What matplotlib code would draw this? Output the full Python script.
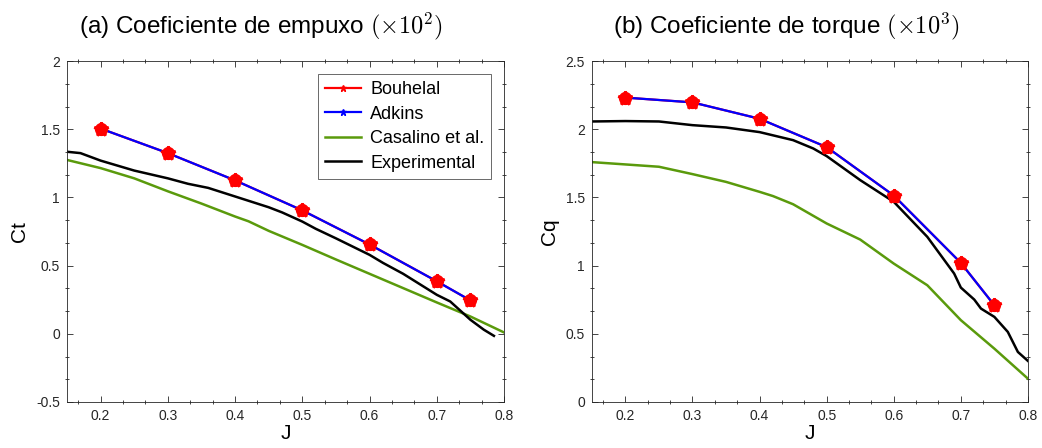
import matplotlib
matplotlib.use("Agg")
import matplotlib.pyplot as plt
from matplotlib.ticker import AutoMinorLocator
import numpy as np

plt.rcParams['font.family'] = ['Liberation Sans', 'DejaVu Sans']
plt.rcParams['mathtext.fontset'] = 'cm'

# Model points (Bouhelal and Adkins coincide)
J_model = [0.2, 0.3, 0.4, 0.5, 0.6, 0.7, 0.75]
ct_bouhelal = [1.505, 1.325, 1.125, 0.905, 0.655, 0.385, 0.245]
ct_adkins = [1.505, 1.325, 1.125, 0.905, 0.655, 0.385, 0.245]
cq_bouhelal = [2.232, 2.197, 2.077, 1.869, 1.514, 1.020, 0.709]
cq_adkins = [2.232, 2.197, 2.077, 1.869, 1.514, 1.020, 0.709]

# Casalino et al.
J_cas = [0.15, 0.2, 0.25, 0.3, 0.35, 0.4, 0.42, 0.45, 0.5, 0.55, 0.6, 0.65, 0.7, 0.75, 0.8]
ct_cas = [1.275, 1.215, 1.14, 1.045, 0.955, 0.86, 0.825, 0.755, 0.652, 0.545, 0.44, 0.335, 0.23, 0.127, 0.01]
cq_cas = [1.759, 1.742, 1.725, 1.671, 1.614, 1.541, 1.51, 1.45, 1.309, 1.191, 1.015, 0.856, 0.6, 0.391, 0.171]

# Experimental
J_exp_ct = [0.15, 0.17, 0.2, 0.25, 0.3, 0.33, 0.36, 0.4, 0.45, 0.47, 0.5, 0.52, 0.55, 0.6, 0.62, 0.65, 0.7, 0.72, 0.75, 0.77, 0.785]
ct_exp = [1.335, 1.325, 1.27, 1.197, 1.14, 1.10, 1.07, 1.007, 0.928, 0.89, 0.823, 0.77, 0.70, 0.579, 0.52, 0.44, 0.286, 0.237, 0.103, 0.03, -0.015]
J_exp_cq = [0.15, 0.2, 0.25, 0.3, 0.35, 0.4, 0.45, 0.48, 0.5, 0.55, 0.6, 0.65, 0.69, 0.7, 0.72, 0.73, 0.75, 0.77, 0.785, 0.8]
cq_exp = [2.057, 2.06, 2.057, 2.03, 2.013, 1.979, 1.92, 1.859, 1.803, 1.627, 1.468, 1.211, 0.942, 0.839, 0.751, 0.685, 0.624, 0.514, 0.367, 0.301]

titles = [r"(a) Coeficiente de empuxo $(\times 10^2)$", r"(b) Coeficiente de torque $(\times 10^3)$"]
ylabels = ["Ct", "Cq"]
xticks = [0.2, 0.3, 0.4, 0.5, 0.6, 0.7, 0.8]
yticks_a = [-0.5, 0, 0.5, 1, 1.5, 2]
yticks_b = [0, 0.5, 1, 1.5, 2, 2.5]

GREEN = '#5a9a0c'
AX = '#262626'

fig = plt.figure(figsize=(10.42, 4.48), dpi=100)
axA = fig.add_axes([0.0643, 0.1027, 0.4194, 0.761])
axB = fig.add_axes([0.568, 0.1027, 0.4185, 0.761])

def draw(ax, yb, ya, yc, Jexp, yexp, yticks, ylim, title, ylabel, legend):
    ax.plot(J_model, yb, color='red', lw=1.6, marker='*', ms=5, label='Bouhelal', zorder=2)
    ax.plot(J_model, ya, color='blue', lw=1.6, marker='*', ms=5, label='Adkins', zorder=3)
    ax.plot(J_cas, yc, color=GREEN, lw=1.8, label='Casalino et al.', zorder=2)
    ax.plot(Jexp, yexp, color='black', lw=1.8, label='Experimental', zorder=2)
    ax.plot(J_model, yb, color='red', lw=0, marker='*', ms=10, mew=2.0, mec='red', zorder=4)
    ax.plot(J_model, yb, color='red', lw=0, marker='o', ms=8.5, zorder=4)
    ax.set_xlim(0.15, 0.8)
    ax.set_ylim(*ylim)
    ax.set_xticks(xticks)
    ax.set_xticklabels([f"{v:g}" for v in xticks])
    ax.set_yticks(yticks)
    ax.set_yticklabels([f"{v:g}" for v in yticks])
    ax.xaxis.set_minor_locator(AutoMinorLocator(3))
    ax.yaxis.set_minor_locator(AutoMinorLocator(3))
    ax.tick_params(which='major', direction='in', top=True, right=True, labelsize=10, length=4,
                   width=0.6, colors=AX, labelcolor=AX, pad=5)
    ax.tick_params(which='minor', direction='inout', top=True, right=True, length=2.5,
                   width=0.6, colors=AX)
    for s in ax.spines.values():
        s.set_linewidth(0.6)
        s.set_color(AX)
    ax.set_title(title, fontsize=17.5, pad=20, x=0.445)
    ax.set_ylabel(ylabel, fontsize=15, labelpad=5)
    ax.set_xlabel('J', fontsize=15, labelpad=1)
    if legend:
        leg = ax.legend(loc='upper right', fontsize=13, frameon=True, fancybox=False,
                        edgecolor=AX, borderpad=0.4, labelspacing=0.42,
                        handlelength=2.0, handletextpad=0.5, borderaxespad=0.7)
        leg.get_frame().set_linewidth(0.6)

draw(axA, ct_bouhelal, ct_adkins, ct_cas, J_exp_ct, ct_exp, yticks_a, (-0.5, 2), titles[0], ylabels[0], True)
draw(axB, cq_bouhelal, cq_adkins, cq_cas, J_exp_cq, cq_exp, yticks_b, (0, 2.5), titles[1], ylabels[1], False)

fig.savefig('out.png', dpi=100)
